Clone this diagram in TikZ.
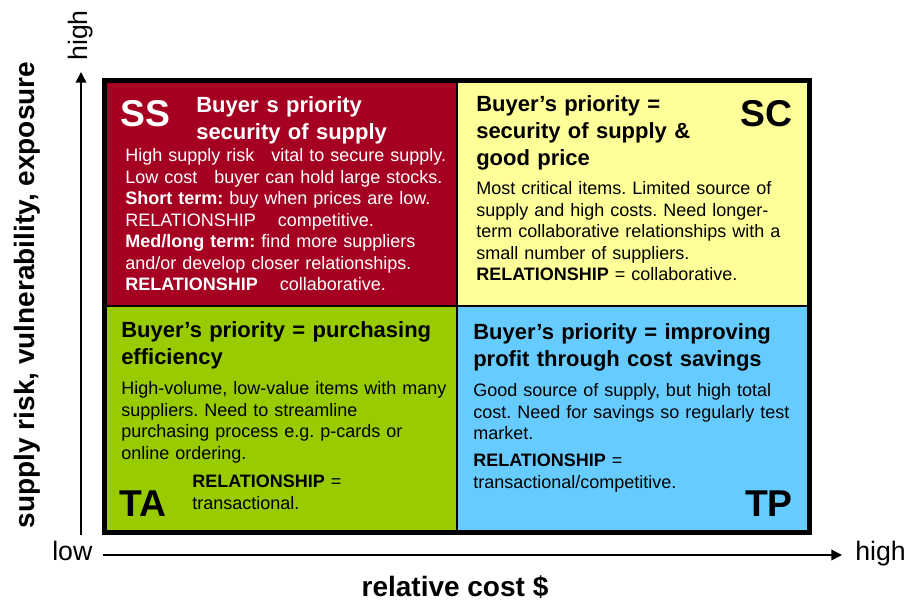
\documentclass[tikz,border=0pt]{standalone}
\usepackage{fontspec}
\setmainfont{Liberation Sans}
\usetikzlibrary{arrows.meta}
\definecolor{ssred}{HTML}{A50021}
\definecolor{scyellow}{HTML}{FFFF99}
\definecolor{tagreen}{HTML}{99CC00}
\definecolor{tpblue}{HTML}{66CCFF}
\frenchspacing
\begin{document}
\frenchspacing
\begin{tikzpicture}[x=0.75pt,y=-0.75pt,
  body/.style={anchor=base west,inner sep=0,text width=300pt,align=left,font=\fontsize{13.5}{16.1}\selectfont\frenchspacing},
  ttl/.style={anchor=base west,inner sep=0,text width=300pt,align=left,font=\fontsize{16.5}{19.9}\selectfont\bfseries},
  big/.style={inner sep=0,font=\fontsize{28}{30}\selectfont\bfseries},
  axislbl/.style={inner sep=0,font=\fontsize{21}{24}\selectfont\bfseries},
  tick/.style={inner sep=0,font=\fontsize{20}{24}\selectfont},
  axisline/.style={line width=1.1pt,-{Triangle[length=8pt,width=8pt]}},
]
\useasboundingbox (0,0) rectangle (918,605);
% quadrants
\fill[ssred] (104.5,81) rectangle (457,306);
\fill[scyellow] (457,81) rectangle (809.5,306);
\fill[tagreen] (104.5,306) rectangle (457,533);
\fill[tpblue] (457,306) rectangle (809.5,533);
\draw[line width=1.5pt] (457,81) -- (457,533);
\draw[line width=1.5pt] (104.5,306) -- (809.5,306);
\draw[line width=3.75pt] (104.5,81) rectangle (809.5,533);
% SS
\node[big, white, anchor=base west] (ssl) at (120,127) {SS};
\node[ttl, text=white] (sst) at (196,113) {Buyer\hspace{6pt}s priority\\security of supply};
\node[body, text=white] (ssb) at (125,162) {High supply risk\hspace{12.75pt}vital to secure supply.\\Low cost\hspace{12.75pt}buyer can hold large stocks.\\\textbf{Short term:} buy when prices are low.\\RELATIONSHIP\hspace{16.5pt}competitive.\\\textbf{Med/long term:} find more suppliers\\and/or develop closer relationships.\\\textbf{RELATIONSHIP}\hspace{16.5pt}collaborative.};
% SC
\node[ttl] (sct) at (476,112) {Buyer’s priority =\\security of supply \&\\good price};
\node[big, anchor=base east] (scl) at (793,127) {SC};
\node[body] (scb) at (476,195) {Most critical items. Limited source of\\supply and high costs. Need longer-\\term collaborative relationships with a\\small number of suppliers.\\\textbf{RELATIONSHIP} = collaborative.};
% TA
\node[ttl] (tat) at (121,338) {Buyer’s priority = purchasing\\efficiency};
\node[body] (tab) at (121,395) {High-volume, low-value items with many\\suppliers. Need to streamline\\purchasing process e.g. p-cards or\\online ordering.};
\node[big, anchor=base west] (tal) at (119,517) {TA};
\node[body] (tar) at (192,488) {\textbf{RELATIONSHIP} =\\transactional.};
% TP
\node[ttl] (tpt) at (473,340) {Buyer’s priority = improving\\profit through cost savings};
\node[body] (tpb) at (473,397) {Good source of supply, but high total\\cost. Need for savings so regularly test\\market.};
\node[body] (tpr) at (473,467) {\textbf{RELATIONSHIP} =\\transactional/competitive.};
\node[big, anchor=base east] (tpl) at (793,517) {TP};
% axes
\coordinate (xo) at (103,555);
\coordinate (xe) at (842,555);
\draw[axisline] (xo) -- (xe);
\coordinate (yo) at (81,535);
\coordinate (ye) at (81,72);
\draw[axisline] (yo) -- (ye);
\node[tick, anchor=base west] (lowl) at (52,561) {low};
\node[tick, anchor=base west] (highx) at (855,561) {high};
\node[tick, rotate=90, anchor=base west] (highy) at (87,61) {high};
\node[axislbl, anchor=base] (xl) at (455,597) {relative cost \$};
\node[axislbl, rotate=90, anchor=base] (yl) at (34,295) {supply risk, vulnerability, exposure};
\end{tikzpicture}
\end{document}
